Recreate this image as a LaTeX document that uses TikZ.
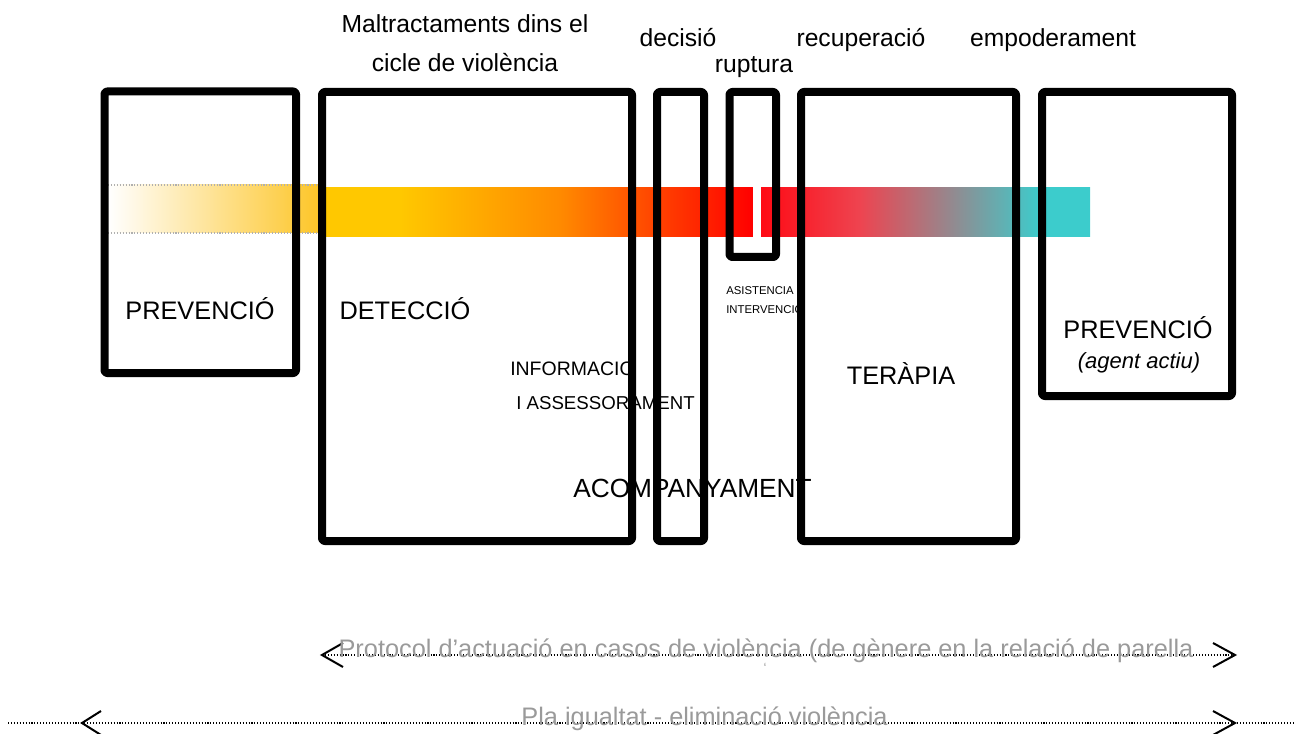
\documentclass[tikz,border=0pt]{standalone}
\usepackage{fontspec}
\setmainfont{Liberation Sans}
\definecolor{cA}{HTML}{FFC800}
\definecolor{cB}{HTML}{FF8A00}
\definecolor{cC}{HTML}{FF4000}
\definecolor{cD}{HTML}{FF0000}
\definecolor{cE}{HTML}{FF0A14}
\definecolor{cF}{HTML}{EE4450}
\definecolor{cG}{HTML}{3CCCCC}
\definecolor{cY}{HTML}{FDC62A}
\definecolor{gtx}{HTML}{9A9A9A}
\definecolor{gdot}{HTML}{B0B0B0}
\pgfdeclarehorizontalshading{barshade}{100bp}{%
  color(0bp)=(cA); color(25bp)=(cA); color(30.31bp)=(cA);
  color(40.67bp)=(cB); color(47.15bp)=(cC); color(53.17bp)=(cD);
  color(53.69bp)=(cE); color(60.10bp)=(cF); color(71.76bp)=(cG);
  color(75bp)=(cG); color(100bp)=(cG)}
\begin{document}
\begin{tikzpicture}[x=0.75pt,y=-0.75pt,
  frame/.style={line width=6pt, rounded corners=2pt, line join=round},
  lbl/.style={inner sep=0pt, anchor=base, font=\fontsize{18.5pt}{22pt}\selectfont},
  capl/.style={inner sep=0pt, anchor=base, font=\fontsize{19pt}{22pt}\selectfont},
  midl/.style={inner sep=0pt, anchor=base west, font=\fontsize{14pt}{17pt}\selectfont},
  tiny/.style={inner sep=0pt, anchor=base west, font=\fontsize{8.5pt}{10pt}\selectfont},
  gtext/.style={inner sep=0pt, anchor=base, text=gtx, font=\fontsize{19pt}{22pt}\selectfont},
  dotline/.style={line width=1pt, dash pattern=on 0.8pt off 1.4pt},
  chev/.style={line width=1.5pt, line join=miter}]
\useasboundingbox (0,0) rectangle (1295,734);

% ---- colour bar ----
\shade[left color=white, right color=cY] (108,185) rectangle (318,233);
\draw[gdot, dotline, line width=0.8pt] (108,185) -- (318,185);
\draw[gdot, dotline, line width=0.8pt] (108,233) -- (318,233);
\shade[shading=barshade] (318,188) rectangle (1090,237);
\fill[white] (753,186) rectangle (761,239);

% ---- texts ----
\node[lbl] (t1) at (465,33) {Maltractaments dins el};
\node[lbl] (t2) at (465,72) {cicle de violència};
\node[lbl] (t3) at (678,47) {decisió};
\node[lbl] (t4) at (754,73) {ruptura};
\node[lbl] (t5) at (861,47) {recuperació};
\node[lbl] (t6) at (1053,47) {empoderament};

\node[capl] (p1) at (200,319) {PREVENCIÓ};
\node[capl] (d1) at (405,319) {DETECCIÓ};
\node[midl, font=\fontsize{14.6pt}{17pt}\selectfont] (i1) at (510,375) {INFORMACIO};
\node[midl] (i2) at (516,409) {I ASSESSORAMENT};
\node[capl, font=\fontsize{19.7pt}{22pt}\selectfont] (ac) at (692.5,497) {ACOMPANYAMENT};
\node[tiny] (as1) at (726,295) {ASISTENCIA};
\node[tiny] (as2) at (726,313) {INTERVENCIO};
\node[capl] (te) at (901,384) {TERÀPIA};
\node[capl] (p2) at (1138,338) {PREVENCIÓ};
\node[inner sep=0pt, anchor=base, font=\fontsize{16.5pt}{20pt}\selectfont\itshape] (p3) at (1139,368) {(agent actiu)};

% ---- frames ----
\draw[frame] (104.5,91.5) rectangle (296,373);
\draw[frame] (322,92) rectangle (632,541);
\draw[frame] (657,92) rectangle (704,541);
\draw[frame] (729.5,92) rectangle (776,257);
\draw[frame] (801,92) rectangle (1016,541);
\draw[frame] (1042,92) rectangle (1232,396);

% ---- bottom arrows ----
\coordinate (a1L) at (322,655);
\coordinate (a1R) at (1235,655);
\coordinate (a1La) at (343,643);
\coordinate (a1Lb) at (343,667);
\coordinate (a1Ra) at (1213,643);
\coordinate (a1Rb) at (1213,667);
\draw[dotline] (a1L) -- (a1R);
\draw[chev] (a1La) -- (a1L) -- (a1Lb);
\draw[chev] (a1Ra) -- (a1R) -- (a1Rb);
\node[gtext] (pr) at (766,657) {Protocol d’actuació en casos de violència (de gènere en la relació de parella};
\node[inner sep=0pt, text=gtx, font=\fontsize{10pt}{12pt}\selectfont] (tick) at (765,668) {`};

\coordinate (a2s) at (8,723);
\coordinate (a2e) at (1295,723);
\coordinate (a2L) at (82,723);
\coordinate (a2R) at (1235,723);
\coordinate (a2La) at (101,711);
\coordinate (a2Lb) at (101,735);
\coordinate (a2Ra) at (1213,711);
\coordinate (a2Rb) at (1213,735);
\draw[dotline] (a2s) -- (a2e);
\draw[chev] (a2La) -- (a2L) -- (a2Lb);
\draw[chev] (a2Ra) -- (a2R) -- (a2Rb);
\node[gtext] (pl) at (704.5,725) {Pla igualtat - eliminació violència};
\end{tikzpicture}
\end{document}
